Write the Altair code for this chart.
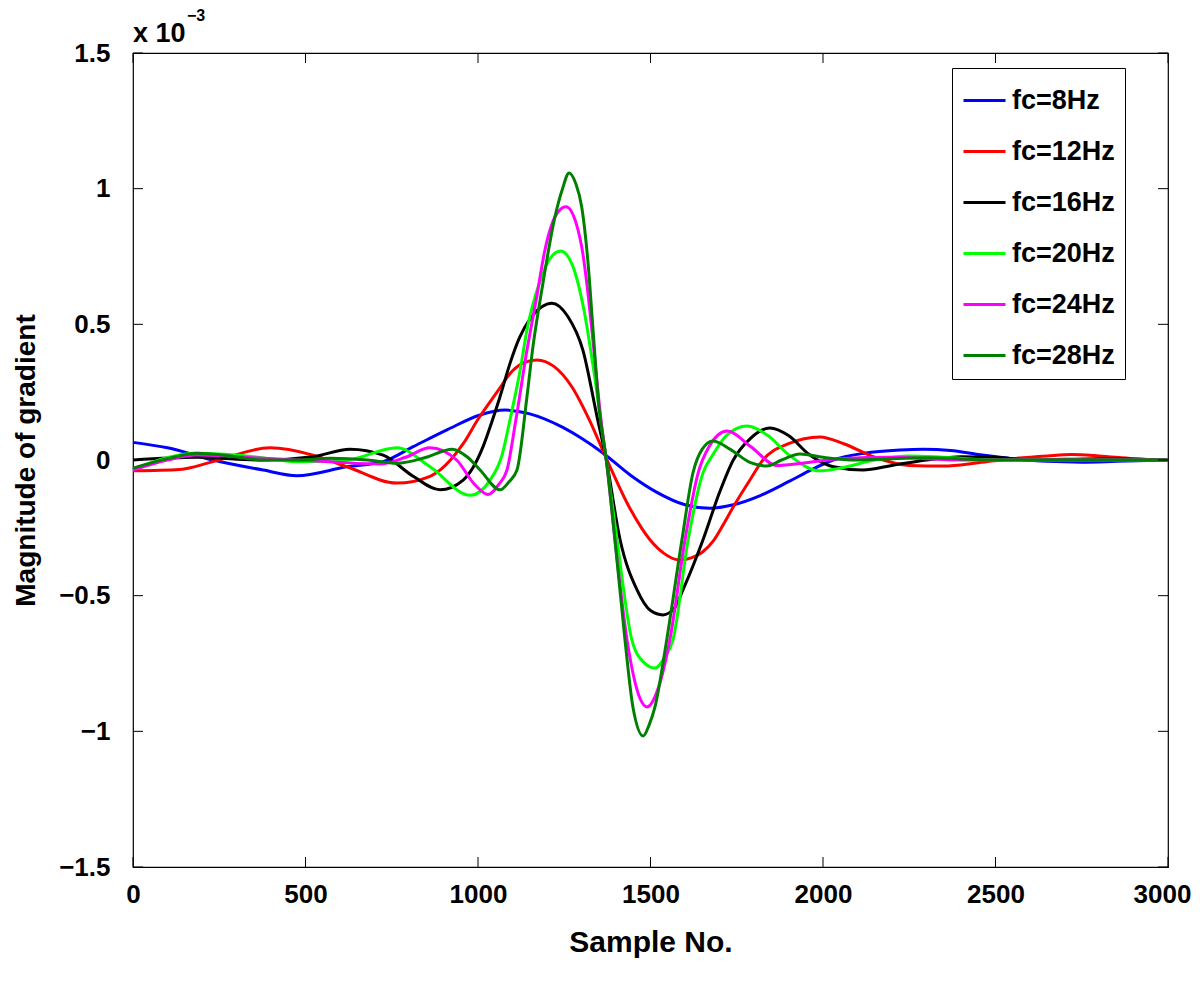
import altair as alt
import pandas as pd

FONT = "Liberation Sans"

names = ["fc=8Hz", "fc=12Hz", "fc=16Hz", "fc=20Hz", "fc=24Hz", "fc=28Hz"]
colors = ["#0000ff", "#ff0000", "#000000", "#00ff00", "#ff00ff", "#008000"]

# values in units of 1e-3
x8 = [0, 100, 232, 377, 475, 620, 725, 812, 910, 1006, 1078, 1150, 1246, 1300, 1362, 1441, 1520, 1600, 1672, 1740, 1820, 1900, 1960, 2029, 2120, 2223, 2290, 2370, 2450, 2550, 2650, 2750, 2850, 3000]
y8 = [0.065, 0.045, 0.0, -0.037, -0.058, -0.025, -0.006, 0.049, 0.111, 0.166, 0.184, 0.17, 0.12, 0.08, 0.026, -0.055, -0.12, -0.165, -0.178, -0.165, -0.13, -0.08, -0.04, 0.0, 0.025, 0.037, 0.04, 0.035, 0.02, 0.005, -0.005, -0.008, -0.005, 0.0]

x12 = [0, 136, 232, 397, 522, 620, 765, 861, 957, 1000, 1055, 1101, 1135, 1171, 1220, 1272, 1322, 1374, 1441, 1499, 1540, 1585, 1620, 1650, 1681, 1710, 1739, 1790, 1826, 1900, 1991, 2060, 2150, 2250, 2350, 2450, 2550, 2650, 2720, 2800, 2900, 3000]
y12 = [-0.04, -0.035, -0.006, 0.045, 0.018, -0.025, -0.085, -0.06, 0.06, 0.15, 0.25, 0.33, 0.36, 0.369, 0.345, 0.27, 0.15, 0.0, -0.18, -0.295, -0.345, -0.369, -0.36, -0.34, -0.3, -0.24, -0.175, -0.07, 0.0, 0.06, 0.085, 0.06, 0.01, -0.02, -0.022, -0.01, 0.005, 0.015, 0.02, 0.015, 0.005, 0.0]

x16 = [0, 185, 377, 522, 629, 725, 812, 890, 957, 1015, 1040, 1064, 1093, 1120, 1151, 1185, 1214, 1260, 1304, 1345, 1372, 1412, 1461, 1500, 1536, 1570, 1594, 1652, 1700, 1740, 1790, 1846, 1900, 1960, 2030, 2116, 2200, 2300, 2400, 2500, 2600, 2800, 3000]
y16 = [0.0, 0.01, 0.0, 0.012, 0.04, 0.018, -0.06, -0.11, -0.074, 0.05, 0.14, 0.234, 0.357, 0.45, 0.52, 0.565, 0.578, 0.53, 0.405, 0.16, 0.0, -0.295, -0.479, -0.555, -0.571, -0.545, -0.479, -0.295, -0.12, 0.0, 0.08, 0.118, 0.09, 0.02, -0.025, -0.037, -0.02, 0.0, 0.012, 0.01, 0.0, 0.005, 0.0]

x20 = [0, 185, 330, 475, 620, 765, 861, 977, 1035, 1070, 1093, 1122, 1142, 1180, 1210, 1240, 1273, 1306, 1339, 1372, 1403, 1446, 1480, 1513, 1540, 1565, 1609, 1652, 1681, 1720, 1780, 1840, 1900, 1991, 2050, 2150, 2250, 2350, 2500, 3000]
y20 = [-0.035, 0.025, 0.015, -0.006, 0.0, 0.045, -0.025, -0.13, -0.074, 0.02, 0.15, 0.33, 0.48, 0.66, 0.745, 0.77, 0.72, 0.56, 0.3, 0.0, -0.295, -0.663, -0.745, -0.767, -0.73, -0.663, -0.295, -0.048, 0.02, 0.09, 0.125, 0.09, 0.02, -0.04, -0.03, 0.0, 0.015, 0.01, 0.0, 0.0]

x24 = [0, 100, 185, 377, 571, 716, 790, 861, 938, 990, 1029, 1060, 1084, 1110, 1142, 1170, 1194, 1225, 1255, 1285, 1304, 1320, 1334, 1359, 1372, 1397, 1432, 1470, 1490, 1520, 1556, 1600, 1638, 1670, 1722, 1790, 1866, 1950, 2050, 2200, 2400, 3000]
y24 = [-0.037, 0.0, 0.018, 0.006, -0.006, -0.015, 0.01, 0.045, 0.0, -0.09, -0.127, -0.09, -0.037, 0.15, 0.405, 0.6, 0.774, 0.9, 0.933, 0.87, 0.76, 0.6, 0.43, 0.12, 0.0, -0.295, -0.663, -0.88, -0.91, -0.85, -0.663, -0.295, -0.048, 0.05, 0.107, 0.05, -0.02, -0.01, 0.005, 0.01, 0.0, 0.0]

x28 = [0, 100, 185, 280, 377, 480, 571, 680, 765, 850, 925, 970, 1006, 1064, 1090, 1113, 1142, 1158, 1188, 1223, 1245, 1264, 1283, 1301, 1318, 1334, 1350, 1372, 1397, 1426, 1449, 1479, 1495, 1513, 1547, 1591, 1623, 1650, 1681, 1730, 1790, 1837, 1880, 1933, 2000, 2100, 2200, 2300, 2500, 3000]
y28 = [-0.03, 0.005, 0.025, 0.015, 0.0, 0.0, 0.006, 0.0, -0.012, 0.01, 0.04, 0.01, -0.037, -0.11, -0.08, -0.037, 0.234, 0.405, 0.65, 0.896, 1.0, 1.058, 1.02, 0.93, 0.74, 0.47, 0.2, 0.0, -0.295, -0.663, -0.91, -1.017, -0.98, -0.91, -0.663, -0.295, -0.048, 0.04, 0.07, 0.04, -0.01, -0.022, 0.0, 0.022, 0.01, 0.0, 0.005, 0.008, 0.0, 0.0]

xticks = [0, 500, 1000, 1500, 2000, 2500, 3000]
yticks = [-1.5, -1.0, -0.5, 0.0, 0.5, 1.0, 1.5]

W, H = 1035, 814

rows = []
for order, (nm, xs, ys) in enumerate(zip(names, [x8, x12, x16, x20, x24, x28], [y8, y12, y16, y20, y24, y28])):
    for a, b in zip(xs, ys):
        rows.append({"x": a, "y": b, "series": nm, "order": order})
df = pd.DataFrame(rows)

xscale = alt.Scale(domain=[0, 3000], nice=False, zero=False)
yscale = alt.Scale(domain=[-1.5, 1.5], nice=False, zero=False)

xaxis = alt.Axis(title="Sample No.", values=xticks, format="d", tickSize=0, labelPadding=14,
                 labelFlush=False, titlePadding=20, domain=False, grid=False,
                 labelOffset={"condition": {"test": "datum.value >= 3000", "value": -6}, "value": 0})
yaxis = alt.Axis(title="Magnitude of gradient", values=yticks, format="~g", tickSize=0,
                 labelPadding=23, titlePadding=18, titleFontSize=28, domain=False, grid=False)

lines = alt.Chart(df).mark_line(strokeWidth=3, interpolate="monotone").encode(
    x=alt.X("x:Q", scale=xscale, axis=xaxis),
    y=alt.Y("y:Q", scale=yscale, axis=yaxis),
    color=alt.Color("series:N", scale=alt.Scale(domain=names, range=colors),
                    legend=alt.Legend(title=None, orient="none", legendX=819, legendY=15,
                                      strokeColor="black", fillColor="white", padding=10,
                                      symbolType="stroke", symbolSize=1764, symbolStrokeWidth=3,
                                      labelFontSize=27, labelFont=FONT, labelFontWeight="bold",
                                      labelOffset=5, rowPadding=15, labelColor="black")),
    order="order:Q",
    detail="series:N",
)

xt = pd.DataFrame({"x": xticks})
yt = pd.DataFrame({"y": yticks})
tick_b = alt.Chart(xt).mark_rule(color="black", strokeWidth=1).encode(
    x=alt.X("x:Q", scale=xscale, axis=xaxis), y=alt.value(H), y2=alt.value(H - 10))
tick_t = alt.Chart(xt).mark_rule(color="black", strokeWidth=1).encode(
    x=alt.X("x:Q", scale=xscale, axis=xaxis), y=alt.value(0), y2=alt.value(10))
tick_l = alt.Chart(yt).mark_rule(color="black", strokeWidth=1).encode(
    y=alt.Y("y:Q", scale=yscale, axis=yaxis), x=alt.value(0), x2=alt.value(10))
tick_r = alt.Chart(yt).mark_rule(color="black", strokeWidth=1).encode(
    y=alt.Y("y:Q", scale=yscale, axis=yaxis), x=alt.value(W), x2=alt.value(W - 10))

exp_base = alt.Chart(pd.DataFrame({"t": ["x 10"]})).mark_text(
    font=FONT, fontWeight="bold", fontSize=27, align="left", baseline="alphabetic", color="black"
).encode(text="t:N", x=alt.value(0), y=alt.value(-11))
exp_sup = alt.Chart(pd.DataFrame({"t": ["\u22123"]})).mark_text(
    font=FONT, fontWeight="bold", fontSize=16, align="left", baseline="alphabetic", color="black"
).encode(text="t:N", x=alt.value(54), y=alt.value(-32))

chart = alt.layer(lines, tick_b, tick_t, tick_l, tick_r, exp_base, exp_sup).properties(
    width=W, height=H,
    autosize=alt.AutoSizeParams(type="none"),
    padding={"left": 125, "top": 45, "right": 24, "bottom": 110},
).configure_view(stroke="black", strokeWidth=1.2).configure_axis(
    labelFont=FONT, labelFontWeight="bold", labelFontSize=26, labelColor="black",
    titleFont=FONT, titleFontWeight="bold", titleFontSize=30, titleColor="black",
)

chart.save("out.html", embed_options={"renderer": "svg", "actions": False})
